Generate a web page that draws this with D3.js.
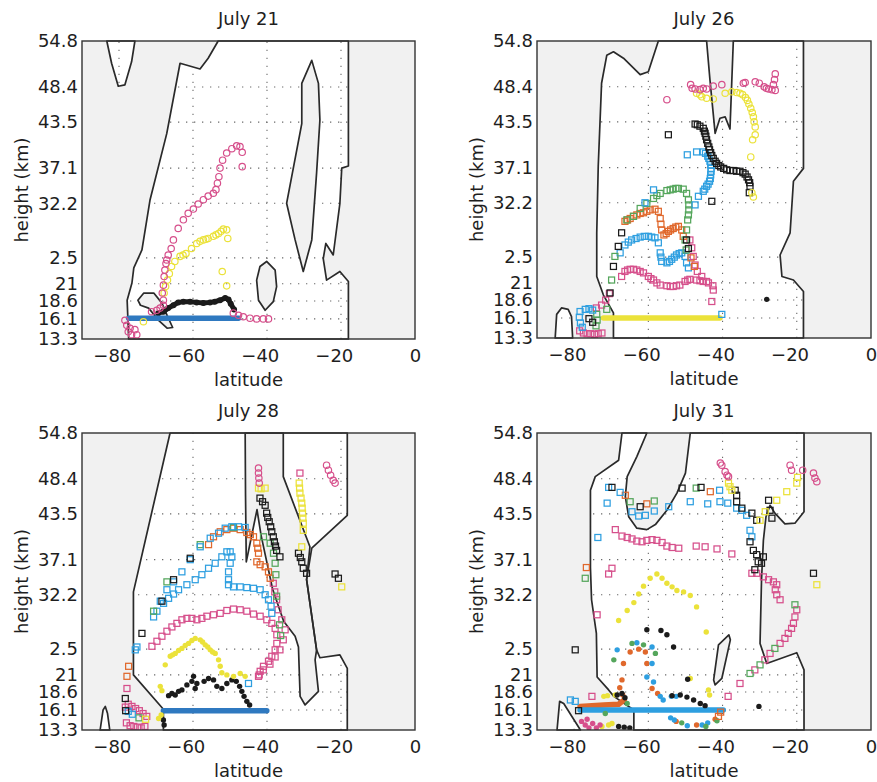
<!DOCTYPE html>
<html>
<head>
<meta charset="utf-8">
<script src="https://cdn.jsdelivr.net/npm/d3@7"></script>
<style>
  body { margin: 0; background: #fff; }
  svg text { font-family: "DejaVu Sans", "Liberation Sans", Arial, sans-serif; fill: #1e1e1e; }
</style>
</head>
<body>
<svg id="chart" width="877" height="782"></svg>
<script>
// ---------- axes ----------
const latTicks = [-80, -60, -40, -20, 0];
const heightTicks = [13.3, 16.1, 18.6, 21, 24.6, 32.2, 37.1, 43.5, 48.4, 54.8];
const heightTickLabels = ["13.3", "16.1", "18.6", "21", "2.5", "32.2", "37.1", "43.5", "48.4", "54.8"];
const panelTitles = ["July 21", "July 26", "July 28", "July 31"];

// ---------- contour outlines [latitude, height km] ----------
const jul21Contours = [
  [[-77.4,13.3],[-77.4,13.6],[-77.8,18.7],[-76.5,21.1],[-76.0,23.2],[-73.8,25.7],[-71.6,32.7],[-67.1,41.9],[-63.5,51.7],[-58.1,50.9],[-55.9,52.4],[-53.2,54.8],[-18.0,54.8],[-18.0,37.4],[-19.8,37.1],[-20.3,32.2],[-22.1,25.0],[-24.1,26.6],[-24.8,24.5],[-23.9,21.5],[-20.3,22.7],[-18.0,21.3],[-18.0,13.3]],
  [[-27.9,52.1],[-26.1,48.9],[-25.7,43.8],[-26.6,36.4],[-27.9,27.1],[-30.2,22.7],[-32.4,27.1],[-34.7,32.2],[-30.6,43.3],[-30.6,48.9]],
  [[-40.1,24.1],[-37.8,22.9],[-37.4,20.6],[-38.3,18.5],[-40.5,17.3],[-42.3,18.7],[-42.8,21.5],[-41.9,23.4]],
  [[-74.9,18.7],[-73.3,19.7],[-70.6,19.7],[-68.4,18.3],[-67.0,16.6],[-65.5,14.9],[-67.0,14.8],[-69.3,15.9],[-72.0,17.6],[-74.2,18.0]],
  [[-83.3,54.8],[-82.0,51.7],[-80.2,48.5],[-78.4,48.7],[-76.6,51.9],[-75.7,54.8]]
];
const jul26Contours = [
  [[-69.4,13.3],[-69.4,16.8],[-72.1,19.3],[-73.9,21.9],[-73.9,28.0],[-73.5,37.3],[-72.6,48.9],[-71.2,52.8],[-69.4,53.3],[-66.7,52.4],[-62.2,50.1],[-60.0,50.5],[-57.3,54.8],[-44.3,54.8],[-43.4,49.4],[-42.0,41.9],[-40.7,44.0],[-39.3,44.2],[-38.0,42.5],[-37.1,54.8],[-18.2,54.8],[-18.2,37.0],[-20.9,35.2],[-21.8,28.0],[-24.5,24.9],[-24.0,21.9],[-20.9,21.4],[-18.2,19.8],[-18.2,13.3]],
  [[-85.1,13.3],[-84.7,16.6],[-83.4,17.5],[-81.6,17.3],[-80.7,16.3],[-80.4,13.3]]
];
const jul28Contours = [
  [[-68.0,13.3],[-68.0,16.2],[-76.1,21.0],[-76.1,32.6],[-66.2,54.8],[-18.3,54.8],[-18.3,43.3],[-27.9,38.7],[-29.3,34.3],[-26.6,24.5],[-25.7,23.4],[-20.3,23.8],[-18.3,21.9],[-18.3,13.3]],
  [[-45.9,54.8],[-45.8,46.0],[-45.6,36.8],[-42.7,44.1],[-41.6,40.5],[-38.5,33.0],[-35.5,28.5],[-32.4,26.4],[-31.5,24.9],[-31.05,18.0],[-29.7,16.8],[-26.1,18.7],[-27.0,23.1],[-26.6,24.5],[-29.3,34.3],[-28.4,38.9],[-35.6,48.7],[-35.6,54.8]],
  [[-85.1,13.3],[-84.3,16.1],[-83.7,16.6],[-83.1,15.6],[-82.5,13.3]]
];
const jul31Contours = [
  [[-63.9,13.3],[-63.9,16.1],[-69.3,18.0],[-70.7,18.9],[-73.8,20.7],[-74.0,26.8],[-75.3,31.5],[-75.6,36.0],[-75.6,46.8],[-74.3,48.7],[-68.0,51.0],[-67.1,54.8],[-60.4,54.8],[-63.1,51.5],[-65.7,48.7],[-66.2,45.9],[-65.3,43.1],[-63.1,41.5],[-60.4,41.3],[-58.1,42.0],[-55.0,44.0],[-52.3,46.4],[-50.0,49.2],[-48.7,54.8],[-18.05,54.8],[-18.05,43.8],[-20.5,42.2],[-23.2,42.1],[-25.9,43.6],[-27.2,44.7],[-28.3,43.1],[-29.0,39.8],[-29.5,34.3],[-29.9,25.4],[-28.1,22.6],[-20.0,24.1],[-18.05,21.7],[-18.05,13.3]],
  [[-38.3,26.6],[-37.9,25.9],[-40.2,20.5],[-42.0,19.6],[-42.4,20.3],[-41.1,25.2]],
  [[-84.6,13.3],[-83.9,17.3],[-82.8,17.0],[-78.3,13.3]]
];

// ---------- July 21 trajectories ----------
const jul21Band = [[-77.4,16.2],[-47.7,16.2]];
const jul21Black = [[-69.4,16.9],[-68.0,17.1],[-66.7,17.6],[-65.3,18.0],[-64.0,18.4],[-62.6,18.5],[-60.8,18.5],[-59.0,18.4],[-57.2,18.3],[-55.4,18.4],[-54.1,18.5],[-52.7,18.7],[-51.3,19.0],[-50.4,18.8],[-49.8,18.2],[-48.9,17.4]];
const jul21Pink = [
  [-78.4,15.9],[-77.9,15.2],[-77.5,14.3],[-77.0,14.8],[-76.6,13.9],[-75.7,14.6],[-75.2,13.9],
  [-71.2,17.1],[-69.8,17.3],[-68.9,17.6],[-68.0,18.0],[-68.0,18.7],
  [-68.3,19.7],[-68.0,20.8],[-67.8,22.0],[-67.6,22.9],[-67.3,23.8],[-67.1,24.3],[-66.7,25.0],[-65.9,25.9],[-65.3,27.1],[-64.0,28.7],[-62.6,29.9],[-61.3,30.8],[-59.9,31.4],[-58.6,32.1],[-57.2,32.7],[-55.9,33.2],[-54.5,33.6],[-53.8,34.1],[-53.4,35.0],[-53.0,35.9],[-52.7,37.1],[-52.0,38.2],[-50.9,39.2],[-49.5,39.8],[-48.2,40.2],[-47.3,40.1],[-46.7,39.3],[-46.7,37.3],
  [-49.1,16.9],[-47.7,16.6],[-46.4,16.4],[-44.6,16.2],[-42.8,16.1],[-41.0,16.1],[-39.6,16.1]
];
const jul21Yellow = [
  [-73.4,15.7],
  [-67.8,19.7],[-67.4,20.6],[-66.9,21.5],[-66.4,22.4],[-65.8,23.4],[-64.9,24.1],[-63.5,24.8],[-62.7,25.0],[-61.9,25.2],[-60.4,25.9],[-59.0,26.6],[-58.1,26.9],[-57.2,27.1],[-56.5,27.2],[-55.9,27.3],[-54.5,27.6],[-53.8,27.8],[-53.1,28.0],[-52.4,28.3],[-51.8,28.6],[-50.9,28.5],[-50.6,27.3],[-52.1,22.7],[-50.9,20.7]
];

// ---------- July 26 trajectories ----------
const jul26Band = [[-72.1,16.1],[-40.7,16.1]];
const jul26PinkRings = [[-55.0,46.6],[-48.6,48.7],[-48.2,48.2],[-47.4,48.1],[-46.1,48.0],[-45.2,48.2],[-44.3,48.1],[-42.5,48.5],[-40.2,48.7],[-34.4,48.9],[-33.9,49.0],[-31.2,49.1],[-30.1,48.9],[-28.8,48.4],[-28.2,48.2],[-27.6,48.1],[-26.7,48.0],[-26.3,48.7],[-26.0,49.4],[-25.8,50.2],[-25.8,47.9]];
const jul26YellowRings = [[-47.0,47.5],[-46.1,47.3],[-45.6,47.0],[-44.3,46.8],[-42.5,46.7],[-39.3,47.5],[-37.5,47.7],[-36.2,47.6],[-35.3,47.5],[-34.6,47.3],[-33.8,46.9],[-33.3,46.5],[-32.9,46.0],[-32.4,45.4],[-32.0,44.8],[-31.7,44.2],[-31.5,43.5],[-31.2,42.8],[-31.2,41.7],[-31.9,41.0],[-32.4,38.6],[-32.1,33.6],[-31.7,33.0]];
const jul26BlackSq = [[-54.6,41.7],[-47.4,43.2],[-46.8,43.1],[-46.1,42.9],[-45.2,42.6],[-44.9,42.2],[-44.7,41.9],[-44.5,41.5],[-44.3,41.0],[-44.0,40.5],[-43.7,40.0],[-43.5,39.6],[-43.2,39.2],[-42.9,38.8],[-42.5,38.4],[-42.0,38.0],[-41.6,37.7],[-41.0,37.4],[-40.5,37.2],[-39.7,37.0],[-38.9,36.8],[-38.0,36.7],[-37.1,36.7],[-36.2,36.6],[-35.3,36.6],[-34.5,36.4],[-33.9,36.2],[-33.4,35.8],[-33.0,35.4],[-32.7,35.0],[-32.6,34.5],[-32.8,33.6],[-42.9,32.4],[-70.3,19.6],[-69.4,23.3],[-68.1,26.1],[-67.2,28.0],[-76.0,16.0],[-75.0,15.5],[-49.7,27.0],[-49.2,25.8]];
const jul26BlueSq = [[-49.5,38.9],[-47.0,39.3],[-45.2,39.3],[-44.6,39.1],[-44.0,38.7],[-43.7,38.4],[-43.4,38.0],[-43.2,37.5],[-43.1,37.0],[-43.1,36.6],[-43.2,36.1],[-43.3,35.6],[-43.5,35.2],[-43.9,34.8],[-44.3,34.5],[-44.8,34.1],[-45.2,33.8],[-46.5,33.1],[-47.4,31.9],[-58.6,34.0],[-60.9,32.2],[-40.2,16.6],[-78.4,17.0],[-78.6,16.2],[-78.3,15.4],[-77.8,14.8],[-77.0,17.3],[-76.0,17.4],[-75.0,17.2]];
const jul26SkySq = [[-67.6,25.2],[-66.3,26.3],[-65.4,26.7],[-64.5,27.0],[-63.3,27.2],[-62.2,27.4],[-61.1,27.5],[-60.0,27.5],[-59.1,27.4],[-58.2,27.3],[-57.3,26.6],[-56.8,25.2],[-56.6,24.6],[-56.4,24.0],[-55.0,23.8],[-54.3,24.0],[-53.7,24.3],[-53.0,24.6],[-52.4,24.9],[-51.7,25.1],[-51.0,25.2],[-50.1,24.7],[-49.7,23.8],[-49.2,23.1]];
const jul26GreenSq = [[-71.2,17.3],[-69.9,21.4],[-69.0,24.7],[-65.8,29.8],[-64.0,30.3],[-62.2,31.4],[-60.4,32.1],[-58.6,32.8],[-57.7,33.2],[-56.8,33.5],[-55.0,33.9],[-54.1,34.0],[-53.3,34.1],[-52.6,34.2],[-51.9,34.2],[-50.6,34.1],[-49.7,33.5],[-49.2,32.6],[-49.1,31.9],[-49.1,31.2],[-49.2,30.5],[-49.4,29.8],[-49.7,28.4],[-50.1,27.0],[-49.8,25.6],[-73.9,16.6],[-73.8,15.8],[-74.1,15.0]];
const jul26OrangeSq = [[-66.3,29.6],[-65.6,29.8],[-64.9,30.0],[-64.0,30.3],[-63.1,30.5],[-62.2,30.7],[-61.3,30.8],[-60.4,31.0],[-59.5,31.2],[-58.2,31.3],[-57.3,31.0],[-56.8,30.0],[-56.6,29.2],[-56.4,28.4],[-55.8,27.7],[-55.2,27.9],[-54.6,28.2],[-54.0,28.4],[-53.3,28.6],[-52.6,28.8],[-51.9,28.9],[-51.0,28.4],[-50.6,27.5],[-48.5,24.5],[-47.6,23.3]];
const jul26PinkSq = [[-67.2,21.9],[-66.3,22.6],[-65.6,22.8],[-64.9,22.9],[-64.0,22.9],[-63.1,22.8],[-62.2,22.6],[-61.3,22.4],[-60.0,21.9],[-59.3,21.6],[-58.6,21.4],[-57.7,21.0],[-56.8,20.7],[-55.0,20.6],[-54.1,20.5],[-53.3,20.5],[-52.4,20.6],[-51.5,20.7],[-50.1,21.2],[-49.4,21.4],[-48.8,21.5],[-47.0,21.4],[-46.1,21.3],[-45.2,21.2],[-43.8,21.0],[-42.6,20.6],[-42.5,20.0],[-42.9,18.4],
  [-48.8,27.0],[-48.3,25.9],[-47.9,24.7],[-47.4,23.5],[-46.8,22.6],[-45.6,21.9],[-44.3,21.2],
  [-78.5,14.3],[-77.5,14.0],[-76.5,13.9],[-75.5,13.9],[-74.5,13.8],[-73.5,13.9],[-72.5,14.0],[-74.0,17.5],[-72.6,17.9],[-71.5,18.6],[-70.5,19.5]];
const jul26BlackDots = [[-28.1,18.7]];

// ---------- July 28 trajectories ----------
const jul28Band = [[-68.0,16.0],[-40.05,16.0]];
const jul28BlackDots = [[-66.6,18.1],[-65.7,18.4],[-64.8,18.2],[-63.9,18.7],[-63.0,18.9],[-61.65,19.6],[-60.3,20.1],[-59.85,20.8],[-58.95,19.8],[-59.4,19.1],[-57.0,20.1],[-55.8,20.5],[-54.45,20.3],[-53.55,19.4],[-52.2,19.1],[-50.85,19.8],[-49.5,20.3],[-48.3,20.1],[-47.4,19.4],[-46.8,18.7],[-46.2,18.0],[-45.45,17.3],[-44.7,16.8],[-68.0,14.7],[-67.8,14.0]];
const jul28YellowDots = [[-67.5,22.4],[-66.15,23.6],[-65.5,23.8],[-64.8,24.0],[-63.9,24.4],[-63.0,24.7],[-62.1,25.1],[-61.2,25.4],[-60.3,25.8],[-59.4,26.1],[-58.05,25.9],[-57.4,25.6],[-56.7,25.2],[-56.0,24.9],[-55.35,24.5],[-54.7,24.2],[-54.0,24.0],[-53.1,23.1],[-52.65,22.2],[-52.2,21.3],[-50.85,21.0],[-49.05,20.8],[-47.25,21.2],[-45.9,20.8],[-68.85,19.4],[-68.4,18.8],[-69.3,14.9],[-68.6,15.4]];
const jul28PinkSq = [[-71.1,25.0],[-69.75,25.7],[-68.4,26.4],[-67.05,27.1],[-65.7,27.7],[-64.35,28.2],[-63.0,28.7],[-61.65,28.9],[-60.3,28.9],[-58.95,28.7],[-57.6,28.9],[-56.25,29.2],[-54.45,29.4],[-52.65,29.6],[-50.85,30.0],[-49.05,30.2],[-47.25,30.1],[-45.45,29.9],[-43.65,29.5],[-41.85,29.2],[-40.05,28.7],[-38.7,28.2],[-37.8,27.5],[-37.35,26.6],[-37.35,25.4],[-37.8,24.5],[-38.7,23.6],[-39.6,22.9],[-40.95,22.2],[-41.85,21.5],[-42.3,20.8],
  [-38.3,33.8],[-37.9,32.6],[-37.4,31.5],[-37.0,30.1],[-36.0,28.7],[-35.1,27.3],[-35.6,25.9],[-36.5,24.5],[-37.8,23.5],[-39.2,22.5],[-41.0,21.7],[-42.1,21.0],
  [-31.1,49.2],[-77.85,19.1],
  [-78.3,16.5],[-77.5,16.9],[-76.5,16.6],[-75.5,16.3],[-74.5,16.0],[-73.5,15.6],[-72.5,15.2],[-78.0,14.3],[-77.0,13.9],[-76.0,13.8],[-75.0,13.7],[-74.0,13.6],[-73.0,13.8]];
const jul28SkySq = [[-75.6,24.5],[-70.65,29.1],[-69.75,29.9],[-67.95,31.0],[-66.6,31.7],[-65.25,32.3],[-63.9,32.9],[-61.65,33.6],[-59.4,34.3],[-57.6,35.0],[-55.8,35.9],[-54.0,36.6],[-52.2,37.5],[-50.85,38.2],[-49.95,38.2],[-49.5,37.5],[-49.95,36.6],[-50.4,35.4],[-50.4,34.3],[-50.4,33.6],[-49.05,33.3],[-47.25,33.3],[-45.45,33.2],[-43.65,33.1],[-41.85,32.9],[-40.5,32.2],[-39.6,31.5],[-38.9,30.6],[-38.7,29.6],[-45.0,19.8]];
const jul28BlueSq = [[-75.15,24.9],[-68.85,31.3],[-67.05,32.9],[-65.25,34.0],[-63.0,35.4],[-60.75,37.1],[-58.05,38.9],[-55.35,40.1],[-53.1,40.8],[-51.3,41.5],[-49.5,41.7],[-47.7,41.7],[-45.9,41.6],[-77.5,15.9],[-76.4,15.5]];
const jul28OrangeSq = [[-77.85,20.8],[-77.4,22.2],[-55.8,39.2],[-54.45,40.3],[-52.65,41.0],[-50.85,41.3],[-49.05,41.5],[-47.25,41.3],[-45.45,40.9],[-44.5,40.6],[-43.65,40.3],[-42.75,39.4],[-42.5,38.7],[-42.3,38.0],[-42.75,36.8],[-41.85,36.4],[-40.5,36.1],[-39.6,35.4],[-39.15,34.5]];
const jul28GreenSq = [[-70.65,29.9],[-67.05,34.0],[-58.05,39.2],[-49.05,41.6],[-40.95,40.3],[-39.15,39.4],[-38.25,38.0],[-37.8,36.6],[-37.6,35.0],[-37.4,32.0],[-36.6,28.0],[-36.3,26.5],[-74.6,15.0]];
const jul28BlackSq = [[-78.3,17.7],[-78.2,16.0],[-73.8,26.8],[-68.4,31.3],[-65.25,34.3],[-60.75,37.3],
  [-41.9,45.7],[-41.2,45.2],[-40.5,44.7],[-40.1,43.6],[-39.8,43.0],[-39.4,42.4],[-39.0,41.7],[-38.7,41.0],[-38.3,40.3],[-38.0,39.6],[-37.7,39.0],[-37.4,38.4],[-36.5,37.5],
  [-31.5,38.0],[-31.0,37.4],[-30.6,36.8],[-30.2,35.9],[-29.3,35.2],[-21.6,35.1],[-20.7,34.5]];
const jul28YellowSq = [[-31.3,47.8],[-31.2,47.1],[-31.1,46.4],[-30.8,45.7],[-30.6,45.0],[-30.5,44.3],[-30.4,43.6],[-30.3,42.9],[-30.2,42.2],[-30.2,41.2],[-30.6,38.9],[-42.3,47.1],[-41.6,47.0],[-40.5,47.1],[-19.8,33.3],[-72.8,14.8]];
const jul28PinkRings = [[-42.3,49.9],[-42.3,49.2],[-42.2,48.5],[-42.1,47.8],[-23.9,50.3],[-23.4,49.6],[-22.8,48.9],[-22.1,48.2],[-21.6,47.8]];

// ---------- July 31 trajectories ----------
const jul31BlueBand = [[-78.4,16.1],[-39.8,16.1]];
const jul31OrangeBand = [[-78.4,16.6],[-72.0,16.8],[-68.0,16.9],[-66.5,17.5]];
const jul31OrangeDots = [[-67.7,19.2],[-66.9,18.2],[-67.1,20.3],[-66.7,22.6],[-64.9,24.2],[-62.6,24.6],[-60.8,24.2],[-60.4,22.6],[-59.0,19.1],[-57.5,18.4],[-52.5,14.5],[-47.0,14.0],[-42.0,14.8]];
const jul31BlueDots = [[-68.4,24.5],[-63.1,25.5],[-59.0,24.9],[-59.0,22.6],[-60.4,20.7],[-58.6,20.0],[-56.8,18.0],[-56.0,17.5],[-53.8,18.0],[-52.5,18.0],[-54.0,15.0],[-53.0,14.7],[-49.5,13.9],[-45.5,14.0],[-44.0,14.3]];
const jul31GreenDots = [[-64.4,25.4],[-61.3,25.2],[-69.3,23.1],[-58.1,24.0],[-65.7,17.0],[-71.6,15.6],[-51.0,14.3],[-44.5,13.8],[-41.5,14.6]];
const jul31BlackDots = [[-60.4,27.3],[-56.6,27.2],[-55.0,26.6],[-53.2,24.9],[-49.4,20.4],[-53.6,18.1],[-51.4,18.2],[-49.6,17.9],[-47.8,17.5],[-46.0,17.0],[-44.7,16.7],[-68.4,18.2],[-67.1,18.4],[-66.3,17.8],[-68.0,13.8],[-66.5,13.7],[-65.0,13.6],[-30.2,16.6]];
const jul31YellowDots = [[-68.0,28.6],[-65.7,30.0],[-63.9,31.1],[-62.6,32.3],[-61.3,33.4],[-59.5,34.5],[-57.7,35.1],[-56.3,34.5],[-55.0,33.8],[-53.6,33.3],[-52.3,32.8],[-50.5,32.6],[-48.7,32.1],[-47.0,30.5],[-44.4,27.0],[-48.7,20.5],[-43.8,18.9],[-43.5,18.2],[-72.0,18.0],[-71.0,18.1],[-68.9,18.2],[-72.5,13.8],[-70.7,14.0],[-69.8,14.2]];
const jul31PinkDots = [[-78.0,14.5],[-77.0,14.0],[-76.0,13.6],[-75.0,14.2],[-74.0,13.6],[-73.0,14.0],[-76.5,14.8]];
const jul31PinkRings = [[-40.6,50.6],[-40.2,50.3],[-39.3,49.4],[-38.8,48.9],[-38.4,48.7],[-21.8,50.3],[-21.4,49.6],[-18.4,49.6],[-15.5,49.2],[-15.1,48.5],[-14.6,48.0]];
const jul31YellowSq = [[-38.4,47.8],[-38.0,47.3],[-37.5,46.8],[-29.9,42.6],[-28.5,43.8],[-25.4,45.4],[-22.7,46.6],[-20.0,47.8],[-19.8,48.6],[-14.6,33.6]];
const jul31BlackSq = [[-69.8,47.2],[-62.2,44.5],[-50.9,47.1],[-45.8,47.2],[-36.6,46.8],[-36.2,46.1],[-36.2,45.2],[-34.8,44.3],[-32.1,43.6],[-30.8,42.6],[-27.6,45.4],[-27.2,44.0],[-26.7,42.9],[-32.6,39.6],[-31.7,38.4],[-30.8,37.8],[-30.4,36.8],[-29.5,36.6],[-29.0,37.5],[-31.3,35.7],[-15.5,35.2],[-79.7,24.5],[-78.8,16.0]];
const jul31BlueSq = [[-70.7,47.2],[-67.6,46.5],[-71.1,45.0],[-64.4,43.8],[-62.6,43.2],[-60.8,43.3],[-58.4,43.9],[-54.5,44.5],[-73.6,40.2],[-40.8,46.8],[-48.7,45.2],[-44.0,44.9],[-38.6,45.0],[-40.7,45.2],[-36.2,44.3],[-34.8,44.0],[-33.5,43.3],[-32.6,41.2],[-32.1,40.3],[-81.0,17.5],[-79.7,17.3]];
const jul31GreenSq = [[-64.9,45.2],[-58.4,45.3],[-47.1,47.1],[-77.0,34.5],[-20.5,30.8],[-29.9,22.4],[-32.6,21.2],[-25.9,24.7]];
const jul31OrangeSq = [[-66.2,46.1],[-60.4,44.9],[-43.3,46.6],[-76.7,36.0],[-41.1,15.2],[-40.5,15.8]];
const jul31PinkSq = [[-68.9,41.3],[-67.1,40.4],[-65.7,40.2],[-64.4,40.0],[-63.1,39.7],[-61.7,39.6],[-60.4,39.8],[-59.0,39.9],[-57.7,39.8],[-56.3,39.5],[-55.0,39.0],[-53.6,38.8],[-51.8,38.7],[-47.1,39.0],[-44.7,38.9],[-41.5,38.6],[-37.5,37.9],
  [-69.8,35.9],[-70.7,35.1],
  [-32.1,35.2],[-30.8,35.2],[-29.0,34.7],[-27.6,34.3],[-26.3,34.0],[-25.4,33.6],[-25.8,32.9],[-25.4,32.2],[-24.5,31.5],
  [-20.0,30.1],[-20.5,29.1],[-20.9,28.2],[-21.4,27.5],[-22.3,26.8],[-23.2,26.1],[-24.5,25.4],[-27.2,24.0],[-28.6,23.1],[-31.3,21.7],[-35.3,19.8],[-38.5,18.0],
  [-75.2,18.0],[-73.8,29.4]];

// ---------- panel composition (drawn bottom to top) ----------
const COLOR = { pink: "#d64f8b", yellow: "#ebe23a", black: "#1b1b1b", blue: "#2f79c0", sky: "#2e9fe0", green: "#55a65c", orange: "#e0682c" };

const panels = [
  { title: panelTitles[0], contours: jul21Contours, layers: [
      ["trail", jul21Black, COLOR.black],
      ["band", jul21Band, COLOR.blue],
      ["ring", jul21Yellow, COLOR.yellow],
      ["ring", jul21Pink, COLOR.pink] ] },
  { title: panelTitles[1], contours: jul26Contours, layers: [
      ["band", jul26Band, COLOR.yellow],
      ["square", jul26PinkSq, COLOR.pink],
      ["square", jul26SkySq, COLOR.sky],
      ["square", jul26OrangeSq, COLOR.orange],
      ["square", jul26GreenSq, COLOR.green],
      ["square", jul26BlueSq, COLOR.sky],
      ["square", jul26BlackSq, COLOR.black],
      ["dot", jul26BlackDots, COLOR.black],
      ["ring", jul26YellowRings, COLOR.yellow],
      ["ring", jul26PinkRings, COLOR.pink] ] },
  { title: panelTitles[2], contours: jul28Contours, layers: [
      ["band", jul28Band, COLOR.blue],
      ["dot", jul28BlackDots, COLOR.black],
      ["dot", jul28YellowDots, COLOR.yellow],
      ["square", jul28PinkSq, COLOR.pink],
      ["square", jul28SkySq, COLOR.sky],
      ["square", jul28OrangeSq, COLOR.orange],
      ["square", jul28GreenSq, COLOR.green],
      ["square", jul28BlueSq, COLOR.sky],
      ["square", jul28BlackSq, COLOR.black],
      ["square", jul28YellowSq, COLOR.yellow],
      ["ring", jul28PinkRings, COLOR.pink] ] },
  { title: panelTitles[3], contours: jul31Contours, layers: [
      ["band", jul31OrangeBand, COLOR.orange],
      ["band", jul31BlueBand, COLOR.sky],
      ["dot", jul31OrangeDots, COLOR.orange],
      ["dot", jul31BlueDots, COLOR.sky],
      ["dot", jul31GreenDots, COLOR.green],
      ["dot", jul31YellowDots, COLOR.yellow],
      ["dot", jul31PinkDots, COLOR.pink],
      ["dot", jul31BlackDots, COLOR.black],
      ["square", jul31PinkSq, COLOR.pink],
      ["square", jul31GreenSq, COLOR.green],
      ["square", jul31OrangeSq, COLOR.orange],
      ["square", jul31BlueSq, COLOR.sky],
      ["square", jul31BlackSq, COLOR.black],
      ["square", jul31YellowSq, COLOR.yellow],
      ["ring", jul31PinkRings, COLOR.pink] ] }
];

// ---------- layout ----------
const frames = [
  { x: 82,  y: 41,  w: 333, h: 298 },
  { x: 537, y: 41,  w: 334, h: 297 },
  { x: 82,  y: 433, w: 333, h: 297 },
  { x: 537, y: 433, w: 334, h: 297 }
];
const FONT = '"DejaVu Sans", "Liberation Sans", Arial, sans-serif';
const FONT_SIZE = 18;

const svg = d3.select("#chart");
const defs = svg.append("defs");

panels.forEach((p, i) => drawPanel(p, frames[i], i));

function drawPanel(p, f, idx) {
  const x = d3.scaleLinear().domain([-90, 0]).range([f.x, f.x + f.w]);
  const y = d3.scaleLinear().domain([13.3, 54.8]).range([f.y + f.h, f.y]);
  const [x0, x1] = x.range();
  const [y0, y1] = y.range();
  const clipId = "plot-clip-" + idx;
  defs.append("clipPath").attr("id", clipId)
    .append("rect").attr("x", x0).attr("y", y1).attr("width", x1 - x0).attr("height", y0 - y1);

  const g = svg.append("g");

  // plot background
  g.append("rect").attr("x", x0).attr("y", y1).attr("width", x1 - x0).attr("height", y0 - y1).attr("fill", "#fff");

  // dotted grid
  const grid = g.append("g").attr("stroke", "#6a6a6a").attr("stroke-width", 1.1).attr("stroke-dasharray", "1.3,6.7");
  grid.selectAll(".gv").data(latTicks.filter(v => v > -90 && v < 0)).join("line").attr("class", "gv")
    .attr("x1", d => x(d)).attr("x2", d => x(d)).attr("y1", y0).attr("y2", y1);
  grid.selectAll(".gh").data(heightTicks.filter(v => v > 13.3 && v < 54.8)).join("line").attr("class", "gh")
    .attr("y1", d => y(d)).attr("y2", d => y(d)).attr("x1", x0).attr("x2", x1);

  // shaded area outside the contour
  const line = d3.line().x(d => x(d[0])).y(d => y(d[1]));
  const shade = `M${x0},${y0}H${x1}V${y1}H${x0}Z` + p.contours.map(c => line(c) + "Z").join("");
  g.append("path").attr("d", shade).attr("fill", "#f1f1f1").attr("fill-rule", "evenodd");

  // contour lines
  g.append("g").selectAll("path").data(p.contours).join("path")
    .attr("d", c => line(c) + "Z")
    .attr("fill", "none").attr("stroke", "#2a2a2a").attr("stroke-width", 1.7).attr("stroke-linejoin", "round");

  // trajectories
  const marks = g.append("g").attr("clip-path", `url(#${clipId})`);
  p.layers.forEach(([kind, data, color]) => {
    const layer = marks.append("g");
    if (kind === "band" || kind === "trail") {
      layer.append("path").attr("d", line(data)).attr("fill", "none")
        .attr("stroke", color).attr("stroke-width", kind === "band" ? 5.5 : 5).attr("stroke-linecap", "round").attr("stroke-linejoin", "round");
      if (kind === "trail") {
        layer.selectAll("circle").data(data).join("circle")
          .attr("cx", d => x(d[0])).attr("cy", d => y(d[1])).attr("r", 3).attr("fill", color);
      }
    } else if (kind === "ring") {
      layer.selectAll("circle").data(data).join("circle")
        .attr("cx", d => x(d[0])).attr("cy", d => y(d[1])).attr("r", 3.2)
        .attr("fill", "none").attr("stroke", color).attr("stroke-width", 1.2);
    } else if (kind === "square") {
      layer.selectAll("rect").data(data).join("rect")
        .attr("x", d => x(d[0]) - 3).attr("y", d => y(d[1]) - 3).attr("width", 6).attr("height", 6)
        .attr("fill", "none").attr("stroke", color).attr("stroke-width", 1.25);
    } else if (kind === "dot") {
      layer.selectAll("circle").data(data).join("circle")
        .attr("cx", d => x(d[0])).attr("cy", d => y(d[1])).attr("r", 2.7).attr("fill", color);
    }
  });

  // frame
  g.append("rect").attr("x", x0).attr("y", y1).attr("width", x1 - x0).attr("height", y0 - y1)
    .attr("fill", "none").attr("stroke", "#333").attr("stroke-width", 1.4);

  // axes
  const xa = g.append("g").attr("transform", `translate(0,${y0})`)
    .call(d3.axisBottom(x).tickValues(latTicks).tickSize(0).tickPadding(10)
      .tickFormat(d => d < 0 ? "\u2212" + Math.abs(d) : String(d)));
  xa.select(".domain").remove();
  xa.selectAll("text").attr("font-size", FONT_SIZE).attr("font-family", FONT).attr("fill", "#1e1e1e")
    .attr("dx", d => d < 0 ? "-0.4em" : 0);

  const ya = g.append("g").attr("transform", `translate(${x0},0)`)
    .call(d3.axisLeft(y).tickValues(heightTicks).tickSize(0).tickPadding(4)
      .tickFormat((d, i) => heightTickLabels[i]));
  ya.select(".domain").remove();
  ya.selectAll("text").attr("font-size", FONT_SIZE).attr("font-family", FONT).attr("fill", "#1e1e1e");

  // labels
  g.append("text").attr("x", (x0 + x1) / 2).attr("y", y0 + 47).attr("text-anchor", "middle")
    .attr("font-size", FONT_SIZE).text("latitude");
  g.append("text").attr("transform", `translate(${x0 - 54},${(y0 + y1) / 2}) rotate(-90)`)
    .attr("text-anchor", "middle").attr("font-size", FONT_SIZE).text("height (km)");
  g.append("text").attr("x", (x0 + x1) / 2).attr("y", y1 - 16).attr("text-anchor", "middle")
    .attr("font-size", FONT_SIZE).text(p.title);
}
</script>
</body>
</html>
